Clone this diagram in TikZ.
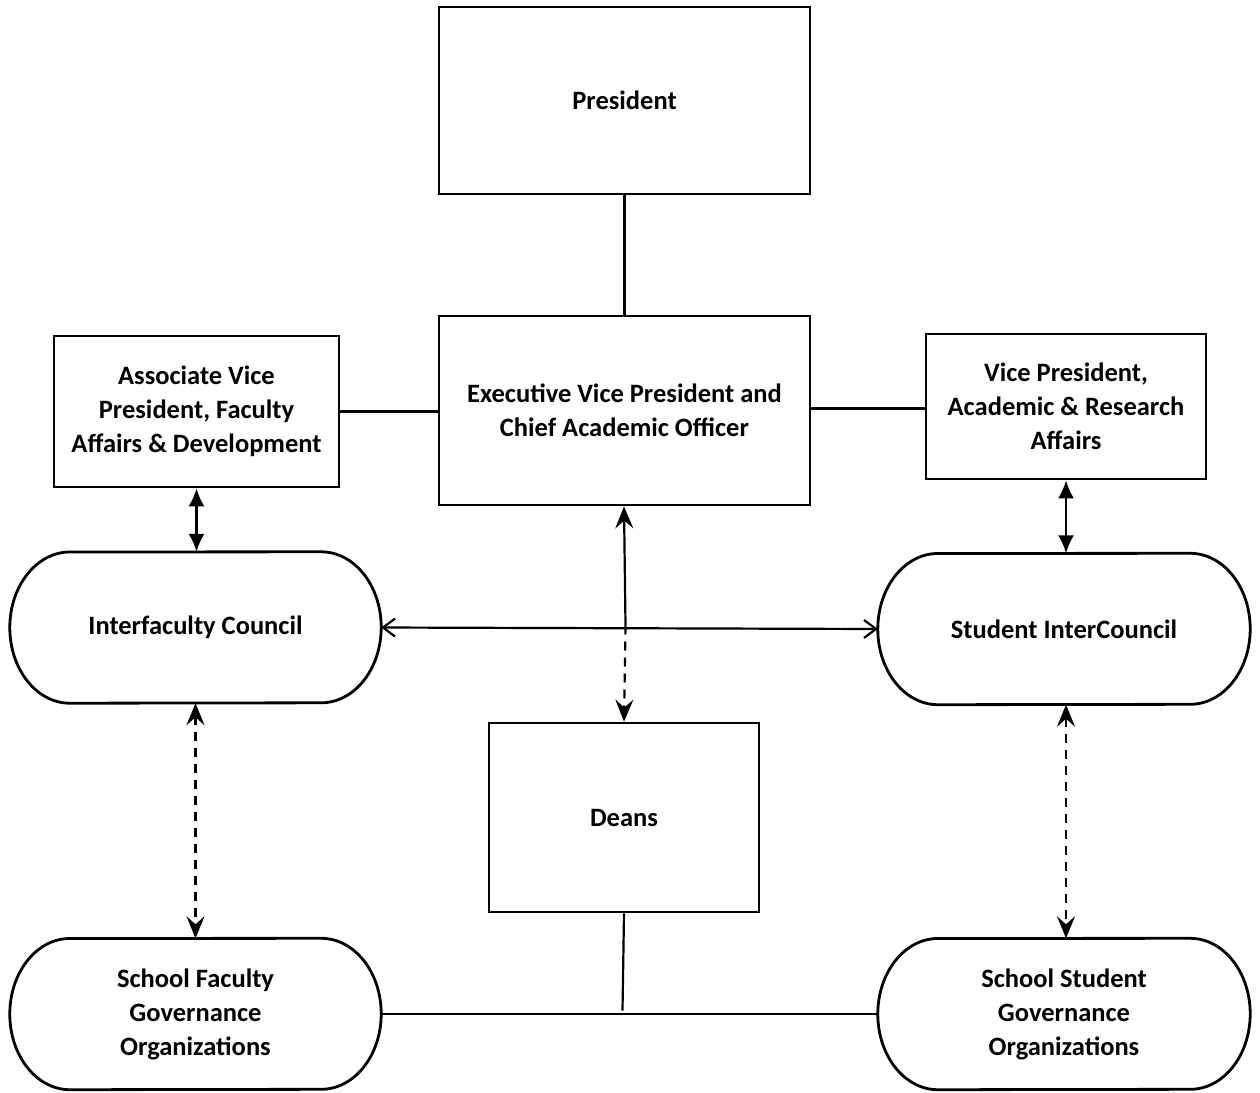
\documentclass[tikz,border=0pt]{standalone}
\usepackage{fontspec}
\setmainfont{Carlito}
\usetikzlibrary{arrows.meta}
\tikzset{
  box/.style={draw, line width=2.8pt, rectangle, align=center, inner sep=0pt},
  stad/.style={rectangle, align=center, inner sep=0pt},
  conn/.style={line width=2.2pt},
  dsh/.style={line width=2.2pt, dash pattern=on 9pt off 7pt},
  tri/.style={{Latex[length=18pt,width=16pt]}-{Latex[length=18pt,width=16pt]}},
  stl/.tip={Stealth[length=22pt,width=18pt,inset=8pt]},
  barb/.tip={Straight Barb[length=12pt,width=18pt,line width=2.2pt]},
}
\newcommand{\stadshape}[1]{%
  \draw[line width=2.8pt, line join=round] (#1.west)
    arc[start angle=180,end angle=90,x radius=60pt,y radius=75.5pt]
    -- ([xshift=-60pt]#1.north east)
    arc[start angle=90,end angle=-90,x radius=60pt,y radius=75.5pt]
    -- ([xshift=60pt]#1.south west)
    arc[start angle=270,end angle=180,x radius=60pt,y radius=75.5pt] -- cycle;}
\begin{document}
\begin{tikzpicture}[x=1pt,y=-1pt,font=\fontsize{26.5}{34}\selectfont\bfseries]
\useasboundingbox (0,0) rectangle (1260,1092);
% boxes
\node[box, minimum width=371pt, minimum height=187pt] (pres) at (624.5,100.5) {President};
\node[box, minimum width=371pt, minimum height=189pt] (evp) at (624.5,410.5) {Executive Vice President and\\Chief Academic Officer};
\node[box, minimum width=285pt, minimum height=151pt] (avp) at (196.5,411.5) {Associate Vice\\President, Faculty\\Affairs \& Development};
\node[box, minimum width=280pt, minimum height=145pt] (vp) at (1066,406.5) {Vice President,\\Academic \& Research\\Affairs};
\node[box, minimum width=270pt, minimum height=189pt] (deans) at (624,817.5) {Deans};
% stadiums
\node[stad, minimum width=371pt, minimum height=151pt] (ifc) at (195.5,627.5) {Interfaculty Council};
\node[stad, minimum width=372pt, minimum height=151pt] (sic) at (1064,629) {Student InterCouncil};
\node[stad, minimum width=371pt, minimum height=151pt] (sfg) at (195.5,1014) {School Faculty\\Governance\\Organizations};
\node[stad, minimum width=372pt, minimum height=151pt] (ssg) at (1064,1014) {School Student\\Governance\\Organizations};
\stadshape{ifc}
\stadshape{sic}
\stadshape{sfg}
\stadshape{ssg}
% junctions
\coordinate (jc) at (625.5,625.5);
\coordinate (jb) at (622.5,1010.5);
% connectors
\draw[conn] (pres.south) -- (evp.north);
\draw[conn] (avp.east) -- (avp.east -| evp.west);
\draw[conn] ([yshift=-2pt]vp.west) -- ([yshift=-2pt]vp.west -| evp.east);
\draw[conn, tri] (avp.south) -- (ifc.north -| avp.south);
\draw[conn, tri] (vp.south) -- (sic.north -| vp.south);
\draw[conn, {stl}-] ([xshift=-0.5pt]evp.south) -- (jc);
\draw[dsh, -{stl}] (jc) -- (deans.north);
\draw[conn, {barb}-{barb}] (ifc.east) -- (sic.west);
\draw[dsh, {stl}-{stl}] (ifc.south) -- (sfg.north);
\draw[dsh, {stl}-{stl}] ([xshift=2pt]sic.south) -- ([xshift=2pt]ssg.north);
\draw[conn] (deans.south) -- (jb);
\draw[conn] (sfg.east) -- (ssg.west);
\end{tikzpicture}
\end{document}
